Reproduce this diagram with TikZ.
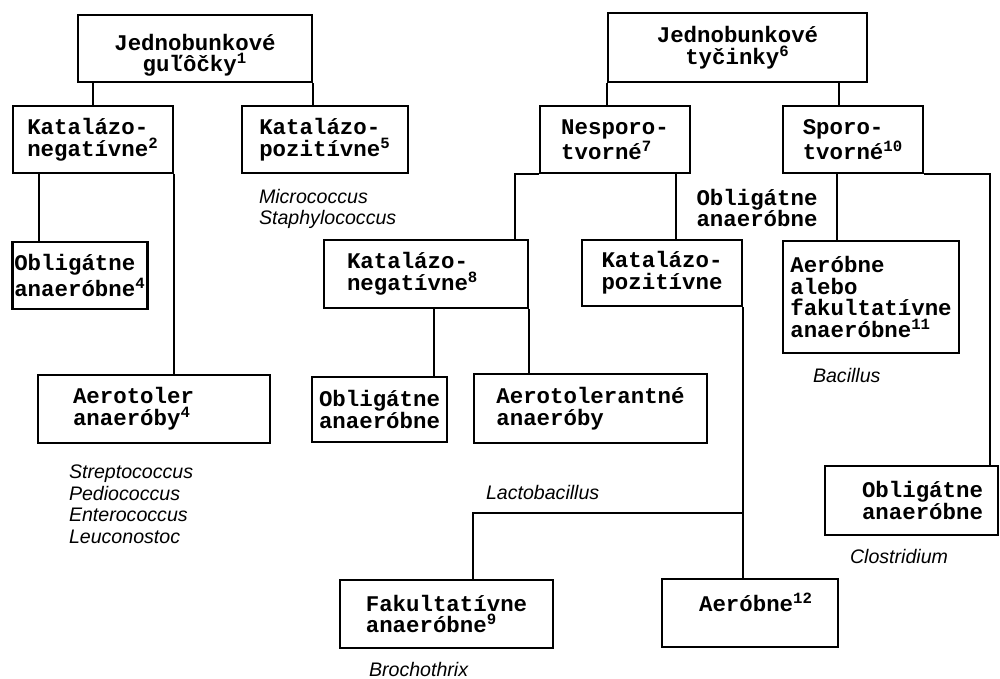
\documentclass[tikz,border=0pt]{standalone}
\usepackage{fontspec}
\setmainfont{Liberation Sans}
\setmonofont{Liberation Mono}
\begin{document}
\begin{tikzpicture}[x=0.5pt, y=-0.5pt, line width=1pt,
  box/.style={draw, line width=1.2pt, align=left, inner sep=1pt,
    font=\ttfamily\bfseries\fontsize{11.2}{10.8}\selectfont},
  lbl/.style={align=left, inner sep=0pt,
    font=\ttfamily\bfseries\fontsize{11.2}{10.8}\selectfont},
  genus/.style={anchor=north west, align=left, inner sep=0pt,
    font=\itshape\fontsize{9.8}{10.8}\selectfont}]
\useasboundingbox (0,0) rectangle (1000,679);
% cocci
\node[box, align=center, minimum width=117pt, minimum height=33.5pt] (n1) at (195,48.5) {\rule{0pt}{15pt}Jednobunkové\\guľôčky\textsuperscript{1}};
\node[box, minimum width=80pt, minimum height=33.5pt] (n2) at (93,139.5) {Katalázo-\\negatívne\textsuperscript{2}};
\node[box, minimum width=83pt, minimum height=33.5pt] (n3) at (325,139.5) {Katalázo-\\pozitívne\textsuperscript{5}};
\node[box, minimum width=67pt, minimum height=33.5pt] (n4) at (80,275.5) {Obligátne\\anaeróbne\textsuperscript{4}};
\node[box, text width=81pt, inner xsep=17.5pt, minimum height=34pt] (n5) at (154,409) {Aerotoler\\anaeróby\textsuperscript{4}};
% rods
\node[box, align=center, minimum width=129.5pt, minimum height=34.5pt] (n6) at (737.5,47.5) {Jednobunkové\\tyčinky\textsuperscript{6}};
\node[box, minimum width=75pt, minimum height=33.5pt] (n7) at (615,139.5) {Nesporo-\\tvorné\textsuperscript{7}};
\node[box, minimum width=70pt, minimum height=33.5pt] (n8) at (853,139.5) {Sporo-\\tvorné\textsuperscript{10}};
\node[box, text width=79pt, inner xsep=11.5pt, minimum height=34pt] (n9) at (426,274) {Katalázo-\\negatívne\textsuperscript{8}};
\node[box, minimum width=80pt, minimum height=33pt] (n10) at (662,273) {Katalázo-\\pozitívne};
\node[box, minimum width=88pt, minimum height=56pt] (n11) at (871,297) {Aeróbne\\alebo\\fakultatívne\\anaeróbne\textsuperscript{11}};
\node[box, minimum width=67.5pt, minimum height=32.5pt] (n12) at (379.5,409.5) {Obligátne\\anaeróbne};
\node[box, minimum width=116.5pt, minimum height=34.5pt] (n13) at (590.5,408.5) {Aerotolerantné\\anaeróby};
\node[box, align=right, text width=71.5pt, inner xsep=7.5pt, minimum height=34.5pt] (n14) at (911.5,500.5) {Obligátne\\anaeróbne};
\node[box, minimum width=106.5pt, minimum height=34pt] (n15) at (446.5,614) {Fakultatívne\\anaeróbne\textsuperscript{9}};
\node[box, align=right, text width=63pt, inner xsep=12.5pt, minimum height=34pt] (n16) at (750,613) {\rule[-11pt]{0pt}{11pt}Aeróbne\textsuperscript{12}};
\node[lbl] (n17) at (757,208) {Obligátne\\anaeróbne};
% genera
\node[genus] (g1) at (258,188) {Micrococcus\\Staphylococcus};
\node[genus] (g2) at (68,464) {Streptococcus\\Pediococcus\\Enterococcus\\Leuconostoc};
\node[genus] (g3) at (485,484) {Lactobacillus};
\node[genus] (g4) at (812,367) {Bacillus};
\node[genus] (g5) at (849,548) {Clostridium};
\node[genus] (g6) at (368,661) {Brochothrix};
% lines
\draw (n2.north |- n1.south) -- (n2.north);
\draw (n1.south east) -- (n1.south east |- n3.north);
\draw ([xshift=13.5pt]n2.south west) -- ([xshift=13.5pt]n2.south west |- n4.north);
\draw (n2.south east) -- (n2.south east |- n5.north);
\draw (n6.south west) -- (n6.south west |- n7.north);
\draw ([xshift=-14.5pt]n6.south east) -- ([xshift=-14.5pt]n6.south east |- n8.north);
\draw (n7.south west) -| ([xshift=-7pt]n9.north east);
\draw ([xshift=-7.5pt]n7.south east) -- ([xshift=-7.5pt]n7.south east |- n10.north);
\draw ([xshift=27.5pt]n8.south west) -- ([xshift=27.5pt]n8.south west |- n11.north);
\draw (n8.south east) -| ([xshift=-4.5pt]n14.north east);
\draw ([xshift=4pt]n9.south) -- ([xshift=4pt]n9.south |- n12.north);
\draw (n9.south east) -- (n9.south east |- n13.north);
\draw (n10.south east) -- (n10.south east |- n16.north);
\path (n10.south east) ++(0,206) coordinate (c1);
\draw (c1) -| ([xshift=67pt]n15.north west);
\end{tikzpicture}
\end{document}
